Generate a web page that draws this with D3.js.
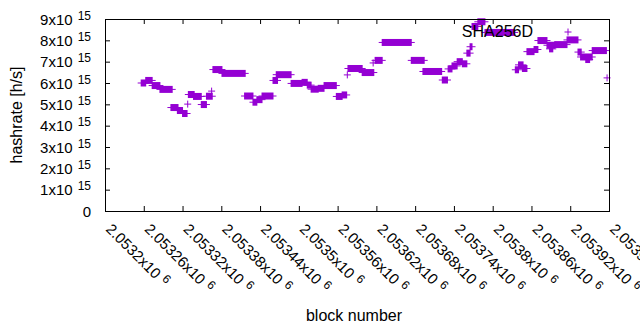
<!DOCTYPE html>
<html>
<head>
<meta charset="utf-8">
<script src="https://cdn.jsdelivr.net/npm/d3@7"></script>
<style>
body { margin: 0; background: #fff; }
text { font-family: "Liberation Sans", Arial, sans-serif; fill: #000; }
</style>
</head>
<body>
<svg id="chart" width="640" height="330"></svg>
<script>
// runs of blocks with the same hashrate (block from, block to, h/s)
const segFrom = [2053256, 2053263, 2053273, 2053285, 2053302, 2053312, 2053320, 2053328, 2053329, 2053337,
    2053349, 2053357, 2053365, 2053367, 2053381, 2053416, 2053429, 2053435, 2053443, 2053460,
    2053465, 2053488, 2053505, 2053513, 2053519, 2053530, 2053539, 2053558, 2053567, 2053575,
    2053576, 2053598, 2053615, 2053618, 2053629, 2053674, 2053692, 2053722, 2053731, 2053737,
    2053745, 2053753, 2053760, 2053765, 2053768, 2053777, 2053788, 2053835, 2053840, 2053846,
    2053853, 2053864, 2053870, 2053884, 2053888, 2053896, 2053915, 2053932, 2053936, 2053944,
    2053954, 2053977];
const segTo = [2053263, 2053273, 2053285, 2053304, 2053313, 2053320, 2053327, 2053328, 2053338, 2053349,
    2053357, 2053366, 2053365, 2053381, 2053417, 2053429, 2053435, 2053443, 2053460, 2053467,
    2053488, 2053505, 2053513, 2053519, 2053530, 2053539, 2053558, 2053567, 2053574, 2053575,
    2053598, 2053616, 2053615, 2053629, 2053674, 2053694, 2053721, 2053730, 2053737, 2053745,
    2053753, 2053760, 2053765, 2053768, 2053777, 2053788, 2053834, 2053840, 2053847, 2053853,
    2053864, 2053870, 2053884, 2053896, 2053893, 2053915, 2053932, 2053937, 2053954, 2053950,
    2053976, 2053977];
const segRate = [6.00e15, 6.12e15, 5.88e15, 5.70e15, 4.85e15, 4.71e15, 4.57e15, 5.01e15, 5.46e15, 5.37e15,
    4.99e15, 5.38e15, 5.62e15, 6.63e15, 6.45e15, 5.39e15, 5.10e15, 5.22e15, 5.39e15, 6.12e15,
    6.39e15, 5.98e15, 6.03e15, 5.90e15, 5.71e15, 5.75e15, 5.88e15, 5.37e15, 5.44e15, 6.38e15,
    6.68e15, 6.49e15, 6.94e15, 7.06e15, 7.90e15, 7.06e15, 6.54e15, 6.14e15, 6.66e15, 6.80e15,
    7.00e15, 6.90e15, 7.40e15, 7.70e15, 8.65e15, 8.87e15, 8.37e15, 6.62e15, 6.85e15, 6.68e15,
    7.47e15, 7.57e15, 7.99e15, 7.77e15, 7.60e15, 7.80e15, 8.02e15, 7.45e15, 7.22e15, 7.10e15,
    7.52e15, 6.24e15];

const xTickValues = [2053200, 2053260, 2053320, 2053380, 2053440, 2053500, 2053560,
    2053620, 2053680, 2053740, 2053800, 2053860, 2053920, 2053980];
const xTickLabels = ["2.0532", "2.05326", "2.05332", "2.05338", "2.05344", "2.0535", "2.05356",
    "2.05362", "2.05368", "2.05374", "2.0538", "2.05386", "2.05392", "2.05398"];
const yTickValues = [0, 1e15, 2e15, 3e15, 4e15, 5e15, 6e15, 7e15, 8e15, 9e15];
const yTickLabels = ["0", "1", "2", "3", "4", "5", "6", "7", "8", "9"];

const SERIES_NAME = "SHA256D";
const POINT_COR = "#9400d3";
const LEFT = 105, RIGHT = 609, TOP = 19, BOTTOM = 211;
const TIC = 5;
const PT = 3.5;
const TEXT_SIZE = 15;
const SUP_SIZE = 12;

const svg = d3.select("#chart");
const g = svg.append("g");

const x = d3.scaleLinear().domain([2053200, 2053980]).range([LEFT, RIGHT]);
const y = d3.scaleLinear().domain([0, 9e15]).range([BOTTOM, TOP]);

function draw_run(i) {
    let x1 = x(segFrom[i]);
    let x2 = x(segTo[i]);
    let cy = y(segRate[i]);
    g.append("rect")
        .attr("x", x1 - 0.5)
        .attr("y", cy - PT)
        .attr("width", x2 - x1 + 1)
        .attr("height", PT * 2)
        .attr("fill", POINT_COR);
    g.append("line")
        .attr("x1", x1 - PT)
        .attr("x2", x2 + PT)
        .attr("y1", cy)
        .attr("y2", cy)
        .attr("stroke", POINT_COR)
        .attr("stroke-width", 1);
}

function draw_axes() {
    const noText = () => "";
    g.append("g").attr("transform", `translate(0,${BOTTOM})`)
        .call(d3.axisBottom(x).tickValues(xTickValues).tickSizeInner(-TIC).tickSizeOuter(0).tickFormat(noText));
    g.append("g").attr("transform", `translate(0,${TOP})`)
        .call(d3.axisTop(x).tickValues(xTickValues).tickSizeInner(-TIC).tickSizeOuter(0).tickFormat(noText));
    g.append("g").attr("transform", `translate(${LEFT},0)`)
        .call(d3.axisLeft(y).tickValues(yTickValues).tickSizeInner(-TIC).tickSizeOuter(0).tickFormat(noText));
    g.append("g").attr("transform", `translate(${RIGHT},0)`)
        .call(d3.axisRight(y).tickValues(yTickValues).tickSizeInner(-TIC).tickSizeOuter(0).tickFormat(noText));
    g.selectAll(".domain").remove();
    g.selectAll(".tick line").attr("stroke", "#000");
    g.append("rect")
        .attr("x", LEFT + 0.5)
        .attr("y", TOP + 0.5)
        .attr("width", RIGHT - LEFT)
        .attr("height", BOTTOM - TOP)
        .attr("fill", "none")
        .attr("stroke", "#000")
        .attr("stroke-width", 1);
}

function draw_tick_labels() {
    yTickValues.forEach((v, i) => {
        let t = g.append("text")
            .attr("x", 91)
            .attr("y", y(v) + 5.5)
            .attr("text-anchor", "end")
            .attr("font-size", TEXT_SIZE);
        if (v === 0) {
            t.text(yTickLabels[i]);
        } else {
            t.append("tspan").text(yTickLabels[i] + "x10");
            t.append("tspan").attr("dx", 5).attr("dy", -5).attr("font-size", SUP_SIZE).text("15");
        }
    });
    xTickValues.forEach((v, i) => {
        let t = g.append("text")
            .attr("transform", `translate(${x(v)},230) rotate(45)`)
            .attr("font-size", TEXT_SIZE);
        t.append("tspan").text(xTickLabels[i] + "x10");
        t.append("tspan").attr("dx", 5).attr("dy", -5).attr("font-size", SUP_SIZE).text("6");
    });
}

function draw_names() {
    g.append("text")
        .text("hashrate [h/s]")
        .attr("transform", `translate(22,${(TOP + BOTTOM) / 2}) rotate(-90)`)
        .attr("text-anchor", "middle")
        .attr("font-size", 16);
    g.append("text")
        .text("block number")
        .attr("x", 354)
        .attr("y", 321)
        .attr("text-anchor", "middle")
        .attr("font-size", 16);
}

function draw_key() {
    g.append("text")
        .text(SERIES_NAME)
        .attr("x", 533)
        .attr("y", 37)
        .attr("text-anchor", "end")
        .attr("font-size", 16);
    let kx = 568, ky = 32;
    g.append("path")
        .attr("d", `M${kx - PT},${ky}H${kx + PT}M${kx},${ky - PT}V${ky + PT}`)
        .attr("stroke", POINT_COR)
        .attr("stroke-width", 1);
}

function init() {
    segRate.forEach((d, i) => draw_run(i));
    draw_axes();
    draw_tick_labels();
    draw_names();
    draw_key();
}

init();
</script>
</body>
</html>
